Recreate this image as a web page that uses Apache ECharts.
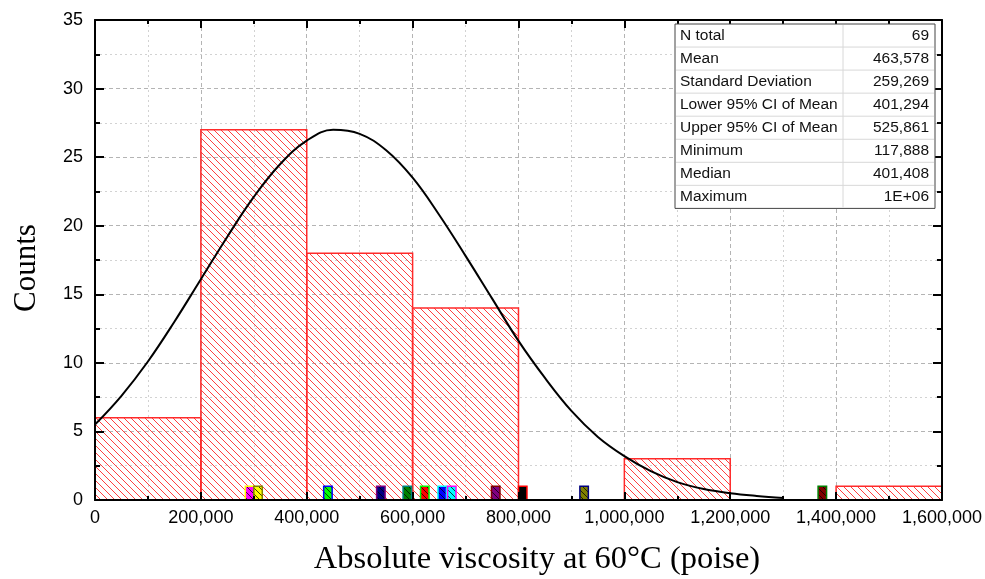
<!DOCTYPE html>
<html>
<head>
<meta charset="utf-8">
<script src="https://cdn.jsdelivr.net/npm/echarts@6/dist/echarts.min.js"></script>
<style>
  html, body { margin: 0; padding: 0; background: #fff; }
  #chart { width: 985px; height: 579px; }
</style>
</head>
<body>
<div id="chart"></div>
<script>
// Histogram of absolute viscosity (bins of 200,000 poise)
const binEdges = [0, 200000, 400000, 600000, 800000, 1000000, 1200000, 1400000, 1600000];
const binCounts = [6, 27, 18, 14, 0, 3, 0, 1];

// Normal distribution curve (x in poise, y in counts)
const curveX = [0, 50000, 100000, 150000, 200000, 250000, 300000, 350000, 400000, 450000,
  500000, 550000, 600000, 650000, 700000, 750000, 800000, 850000, 900000, 950000,
  1000000, 1050000, 1100000, 1150000, 1200000, 1250000, 1300000];
const curveY = [5.5, 7.6, 10.1, 13.0, 16.1, 19.2, 22.1, 24.5, 26.2, 27.0,
  26.7, 25.5, 23.5, 20.8, 17.8, 14.7, 11.6, 8.9, 6.5, 4.6,
  3.2, 2.1, 1.3, 0.8, 0.5, 0.3, 0.15];

// Individual sample markers along the baseline
const markerX = [292000, 308000, 440000, 540000, 590000, 623000, 656000, 674000, 757000, 808000, 924000, 1374000];
const markerCount = [1, 1, 1, 1, 1, 1, 1, 1, 1, 1, 1, 1];

// Summary statistics table
const statLabels = ['N total', 'Mean', 'Standard Deviation', 'Lower 95% CI of Mean',
  'Upper 95% CI of Mean', 'Minimum', 'Median', 'Maximum'];
const statValues = ['69', '463,578', '259,269', '401,294', '525,861', '117,888', '401,408', '1E+06'];

// Axis tick values
const xTicks = [0, 200000, 400000, 600000, 800000, 1000000, 1200000, 1400000, 1600000];
const yTicks = [0, 5, 10, 15, 20, 25, 30, 35];

// ---- styling ----
const markerPalette = [
  ['#ff00ff', '#ffff00'], ['#ffff00', '#808000'], ['#00ff00', '#0000ff'], ['#000080', '#800080'],
  ['#008000', '#008080'], ['#ff0000', '#00ff00'], ['#0000ff', '#00ffff'], ['#00ffff', '#ff00ff'],
  ['#800080', '#800000'], ['#000000', '#ff0000'], ['#808000', '#000080'], ['#800000', '#008000']
];

function hatchPattern(lineColor, bg, step, width) {
  const c = document.createElement('canvas');
  c.width = step; c.height = step;
  const ctx = c.getContext('2d');
  if (bg) { ctx.fillStyle = bg; ctx.fillRect(0, 0, step, step); }
  ctx.strokeStyle = lineColor;
  ctx.lineWidth = width;
  ctx.beginPath();
  ctx.moveTo(-1, -1); ctx.lineTo(step + 1, step + 1);
  ctx.moveTo(-1, step - 1); ctx.lineTo(1, step + 1);
  ctx.moveTo(step - 1, -1); ctx.lineTo(step + 1, 1);
  ctx.stroke();
  return { image: c, repeat: 'repeat' };
}

const barHatch = hatchPattern('#ff4040', null, 7, 1);
const markerHatches = markerPalette.map(p => hatchPattern('rgba(0,0,0,0.75)', p[0], 6, 1));

const fmt = v => v.toLocaleString('en-US');
const sansFont = '"Liberation Sans", Arial, sans-serif';
const serifFont = '"Liberation Serif", "Times New Roman", serif';

const X_MIN = xTicks[0], X_MAX = xTicks[xTicks.length - 1], X_STEP = xTicks[1] - xTicks[0];
const Y_MIN = yTicks[0], Y_MAX = yTicks[yTicks.length - 1], Y_STEP = yTicks[1] - yTicks[0];

function frameXAxis(position, showLabel) {
  return {
    type: 'value', position: position, min: X_MIN, max: X_MAX, interval: X_STEP, z: 10,
    axisLine: { show: true, onZero: false, lineStyle: { color: '#000', width: 2 } },
    axisTick: { show: true, inside: true, length: 8, lineStyle: { color: '#000', width: 2 } },
    minorTick: { show: true, splitNumber: 2, length: 4, lineStyle: { color: '#000', width: 2 } },
    axisLabel: {
      show: showLabel, margin: 9, color: '#000', fontSize: 18, fontFamily: sansFont,
      formatter: v => fmt(v)
    },
    splitLine: { show: false }
  };
}
function frameYAxis(position, showLabel) {
  return {
    type: 'value', position: position, min: Y_MIN, max: Y_MAX, interval: Y_STEP, z: 10,
    axisLine: { show: true, onZero: false, lineStyle: { color: '#000', width: 2 } },
    axisTick: { show: true, inside: true, length: 9, lineStyle: { color: '#000', width: 2 } },
    minorTick: { show: true, splitNumber: 2, length: 5, lineStyle: { color: '#000', width: 2 } },
    axisLabel: { show: showLabel, margin: 12, color: '#000', fontSize: 18, fontFamily: sansFont },
    splitLine: { show: false }
  };
}
const gridLineStyle = { color: '#b4b4b4', width: 1, type: [4, 3] };
const minorGridStyle = { color: '#d2d2d2', width: 1, type: [2, 3] };

// statistics table built as graphic elements
const tLeft = 675, tTop = 24, tRight = 935, tDiv = 843, rowH = 23.05;
const tableFont = '15.5px ' + sansFont;
const tableChildren = [];
tableChildren.push({
  type: 'rect', shape: { x: tLeft, y: tTop, width: tRight - tLeft, height: rowH * statLabels.length },
  style: { fill: '#fff', stroke: '#444', lineWidth: 1 }, z: 100
});
for (let i = 1; i < statLabels.length; i++) {
  tableChildren.push({
    type: 'line', shape: { x1: tLeft + 1, y1: tTop + rowH * i, x2: tRight - 1, y2: tTop + rowH * i },
    style: { stroke: '#d8d8d8', lineWidth: 1 }, z: 101
  });
}
tableChildren.push({
  type: 'line', shape: { x1: tDiv, y1: tTop + 1, x2: tDiv, y2: tTop + rowH * statLabels.length - 1 },
  style: { stroke: '#d8d8d8', lineWidth: 1 }, z: 101
});
statLabels.forEach((lab, i) => {
  const cy = tTop + rowH * (i + 0.5);
  tableChildren.push({
    type: 'text', x: tLeft + 5, y: cy, z: 102,
    style: { text: lab, fill: '#111', font: tableFont, verticalAlign: 'middle', align: 'left' }
  });
  tableChildren.push({
    type: 'text', x: tRight - 6, y: cy, z: 102,
    style: { text: statValues[i], fill: '#111', font: tableFont, verticalAlign: 'middle', align: 'right' }
  });
});

const chart = echarts.init(document.getElementById('chart'), null, { renderer: 'canvas' });

const option = {
  animation: false,
  backgroundColor: '#fff',
  grid: { left: 95, right: 43, top: 20, bottom: 79, containLabel: false },
  xAxis: [
    frameXAxis('bottom', true),
    frameXAxis('top', false),
    {
      type: 'value', position: 'bottom', min: X_MIN, max: X_MAX, interval: X_STEP, z: 0,
      axisLine: { show: false }, axisTick: { show: false }, axisLabel: { show: false },
      minorTick: { show: false, splitNumber: 2 },
      splitLine: { show: true, lineStyle: gridLineStyle },
      minorSplitLine: { show: true, lineStyle: minorGridStyle }
    }
  ],
  yAxis: [
    frameYAxis('left', true),
    frameYAxis('right', false),
    {
      type: 'value', position: 'left', min: Y_MIN, max: Y_MAX, interval: Y_STEP, z: 0,
      axisLine: { show: false }, axisTick: { show: false }, axisLabel: { show: false },
      minorTick: { show: false, splitNumber: 2 },
      splitLine: { show: true, lineStyle: gridLineStyle },
      minorSplitLine: { show: true, lineStyle: minorGridStyle }
    }
  ],
  series: [
    {
      name: 'Counts',
      type: 'custom',
      xAxisIndex: 0, yAxisIndex: 0,
      z: 2,
      clip: true,
      encode: { x: [0, 1], y: 2 },
      data: binCounts.map((c, i) => [binEdges[i], binEdges[i + 1], c]),
      renderItem: function (params, api) {
        if (api.value(2) <= 0) return { type: 'group', children: [] };
        const p0 = api.coord([api.value(0), api.value(2)]);
        const p1 = api.coord([api.value(1), 0]);
        return {
          type: 'rect',
          shape: { x: p0[0], y: p0[1], width: p1[0] - p0[0], height: p1[1] - p0[1] },
          style: { fill: barHatch, stroke: '#ff2a2a', lineWidth: 1.5 }
        };
      }
    },
    {
      name: 'Samples',
      type: 'custom',
      xAxisIndex: 0, yAxisIndex: 0,
      z: 3,
      encode: { x: 0, y: 1 },
      data: markerX.map((x, i) => [x, markerCount[i]]),
      renderItem: function (params, api) {
        const i = params.dataIndex;
        const half = 8000;
        const p0 = api.coord([api.value(0) - half, api.value(1)]);
        const p1 = api.coord([api.value(0) + half, 0]);
        return {
          type: 'rect',
          shape: { x: p0[0], y: p0[1], width: p1[0] - p0[0], height: p1[1] - p0[1] },
          style: { fill: markerHatches[i], stroke: markerPalette[i][1], lineWidth: 1.5 }
        };
      }
    },
    {
      name: 'Normal',
      type: 'line',
      xAxisIndex: 0, yAxisIndex: 0,
      z: 4,
      smooth: 0.4,
      showSymbol: false,
      symbol: 'none',
      lineStyle: { color: '#000', width: 2 },
      data: curveX.map((x, i) => [x, curveY[i]])
    }
  ],
  graphic: [
    { type: 'group', children: tableChildren },
    {
      type: 'text', x: 537, y: 559, z: 50,
      style: {
        text: 'Absolute viscosity at 60°C (poise)', fill: '#000',
        font: '32.5px ' + serifFont, align: 'center', verticalAlign: 'middle'
      }
    },
    {
      type: 'text', x: 27, y: 268, rotation: Math.PI / 2, z: 50,
      style: {
        text: 'Counts', fill: '#000',
        font: '31px ' + serifFont, align: 'center', verticalAlign: 'middle'
      }
    }
  ]
};

chart.setOption(option);
</script>
</body>
</html>
